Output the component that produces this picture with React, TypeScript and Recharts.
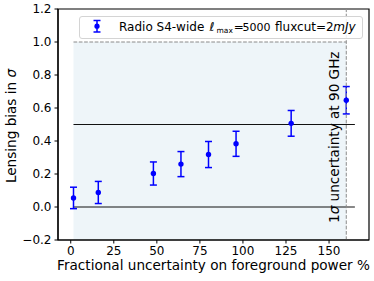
import React from "react";
import {
  ComposedChart,
  Scatter,
  ErrorBar,
  XAxis,
  YAxis,
  ReferenceArea,
  ReferenceLine,
  Label,
} from "recharts";

// ---- data ----
const fracUncertainty = [1.6, 16, 48, 64, 80, 96, 128, 160];
const lensingBias = [0.055, 0.088, 0.203, 0.26, 0.318, 0.383, 0.507, 0.647];
const biasError = [0.065, 0.067, 0.07, 0.076, 0.079, 0.076, 0.078, 0.083];

const xTicks = [0, 25, 50, 75, 100, 125, 150];
const yTicks = [-0.2, 0, 0.2, 0.4, 0.6, 0.8, 1.0, 1.2];
const xDomain: [number, number] = [-7.4, 173.2];
const yDomain: [number, number] = [-0.2, 1.2];

const shadeStart = 1.6;
const shadeEnd = 160;
const hLineEnd = 165;
const hLines = [0, 0.5];
const sigmaLevel = 1.0;

const data = fracUncertainty.map((x, i) => ({
  x,
  y: lensingBias[i],
  err: biasError[i],
}));

const FONT = "DejaVu Sans";
const BLUE = "#0000ff";
const LABEL_SIZE = 13.6;
const TICK_SIZE = 12;

const fmtY = (v: number) => (v < 0 ? "\u2212" + Math.abs(v).toFixed(1) : v.toFixed(1));

const LegendBox = () => {
  const base = 30.5;
  return (
    <svg
      width={374}
      height={50}
      style={{ position: "absolute", left: 0, top: 0, pointerEvents: "none" }}
    >
      <rect
        x={79.5}
        y={16.5}
        width={283}
        height={22}
        rx={2.5}
        fill="#fff"
        fillOpacity={0.85}
        stroke="#d4d4d4"
        strokeWidth={1}
      />
      <line x1={97} y1={20.5} x2={97} y2={32} stroke={BLUE} strokeWidth={1.5} />
      <line x1={93.5} y1={20.5} x2={100.5} y2={20.5} stroke={BLUE} strokeWidth={1.5} />
      <line x1={93.5} y1={32} x2={100.5} y2={32} stroke={BLUE} strokeWidth={1.5} />
      <circle cx={97} cy={26.2} r={2.6} fill={BLUE} />
      <text x={119} y={base} fontFamily={FONT} fontSize={12} fill="#000">
        <tspan x={119}>Radio S4-wide</tspan>
        <tspan x={209.5} fontStyle="italic">ℓ</tspan>
        <tspan x={216.5} dy={2.2} fontSize={7.5}>max</tspan>
        <tspan x={233.8} dy={-2.2}>=</tspan>
        <tspan x={242.5} fontSize={11}>5000</tspan>
        <tspan x={275}>fluxcut</tspan>
        <tspan x={316}>=</tspan>
        <tspan x={326}>2</tspan>
        <tspan x={333.3} fontStyle="italic">mJy</tspan>
      </text>
    </svg>
  );
};

const renderVText = (props: any) => {
  const vb = props.viewBox || {};
  const x = (vb.x ?? 0) - 7.5;
  const y = 223;
  return (
    <text
      x={x}
      y={y}
      transform={`rotate(-90, ${x}, ${y})`}
      fontFamily={FONT}
      fontSize={LABEL_SIZE}
      fill="#000"
      textAnchor="start"
    >
      1<tspan fontStyle="italic">σ</tspan> uncertainty at 90 GHz
    </text>
  );
};

const renderYLabel = () => (
  <text
    x={16}
    y={126}
    transform="rotate(-90, 16, 126)"
    fontFamily={FONT}
    fontSize={LABEL_SIZE}
    fill="#000"
    textAnchor="middle"
  >
    Lensing bias in <tspan fontStyle="italic">σ</tspan>
  </text>
);

const renderXLabel = () => (
  <text x={213.5} y={270} fontFamily={FONT} fontSize={LABEL_SIZE} fill="#000" textAnchor="middle">
    Fractional uncertainty on foreground power %
  </text>
);

export default function App() {
  return (
    <div style={{ position: "absolute", left: 0, top: 0, width: 374, height: 281, background: "#fff" }}>
      <ComposedChart
        width={374}
        height={281}
        data={data}
        margin={{ top: 9, right: 5, bottom: 0, left: 0 }}
      >
        <XAxis
          type="number"
          dataKey="x"
          domain={xDomain}
          ticks={xTicks}
          allowDataOverflow
          height={41}
          tickSize={3.5}
          tickMargin={3}
          axisLine={{ stroke: "#000", strokeWidth: 1.2 }}
          tickLine={{ stroke: "#000" }}
          tick={{ fontFamily: FONT, fontSize: TICK_SIZE, fill: "#000" }}
        >
          <Label content={renderXLabel} />
        </XAxis>
        <YAxis
          type="number"
          dataKey="y"
          domain={yDomain}
          ticks={yTicks}
          allowDataOverflow
          width={58}
          tickSize={3.5}
          tickMargin={3}
          tickFormatter={fmtY}
          axisLine={{ stroke: "#000", strokeWidth: 1.2 }}
          tickLine={{ stroke: "#000" }}
          tick={{ fontFamily: FONT, fontSize: TICK_SIZE, fill: "#000" }}
        >
          <Label content={renderYLabel} />
        </YAxis>
        <ReferenceArea
          x1={shadeStart}
          x2={shadeEnd}
          y1={yDomain[0]}
          y2={sigmaLevel}
          fill="#eef5f9"
          fillOpacity={1}
          stroke="none"
        />
        {hLines.map((h) => (
          <ReferenceLine
            key={h}
            segment={[
              { x: shadeStart, y: h },
              { x: hLineEnd, y: h },
            ]}
            stroke="#111"
            strokeWidth={1}
          />
        ))}
        <ReferenceLine
          segment={[
            { x: shadeStart, y: sigmaLevel },
            { x: shadeEnd, y: sigmaLevel },
          ]}
          stroke="#8a8a8a"
          strokeWidth={1}
          strokeDasharray="3.7 1.6"
        />
        <Scatter
          data={data}
          dataKey="y"
          fill={BLUE}
          isAnimationActive={false}
          shape={(p: any) => <circle cx={p.cx} cy={p.cy} r={2.7} fill={BLUE} />}
        >
          <ErrorBar dataKey="err" direction="y" width={3.5} stroke={BLUE} strokeWidth={1.5} />
        </Scatter>
        <ReferenceLine
          x={shadeEnd}
          stroke="#8a8a8a"
          strokeWidth={1}
          strokeDasharray="3.7 1.6"
          label={renderVText}
        />
        <ReferenceArea
          x1={xDomain[0]}
          x2={xDomain[1]}
          y1={yDomain[0]}
          y2={yDomain[1]}
          fill="none"
          stroke="#000"
          strokeWidth={1.2}
        />
      </ComposedChart>
      <LegendBox />
    </div>
  );
}
